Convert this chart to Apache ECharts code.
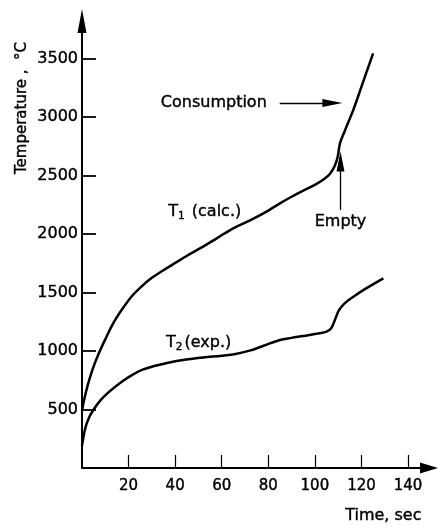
<!DOCTYPE html>
<html>
<head>
<meta charset="utf-8">
<script src="https://cdn.jsdelivr.net/npm/echarts@6/dist/echarts.min.js"></script>
<style>
  html, body { margin: 0; padding: 0; background: #fff; }
  #chart { width: 439px; height: 527px; }
</style>
</head>
<body>
<div id="chart"></div>
<script>
// ---- data (time in s, temperature in °C) ----
const t1Time = [0, 1, 2.5, 4.5, 7, 10, 13.5, 17, 21.2, 25.5, 30, 35, 40, 45.6, 52, 58, 64.9, 73, 80, 85, 90, 95, 100, 104, 106.5, 108.5, 109.8, 110.8, 113, 116.5, 120, 125];
const t1Temp = [490, 590, 710, 840, 970, 1100, 1240, 1350, 1464, 1550, 1625, 1690, 1752, 1820, 1892, 1965, 2048, 2125, 2200, 2262, 2318, 2370, 2420, 2470, 2515, 2580, 2660, 2776, 2889, 3060, 3259, 3544];
const t2Time = [0, 1.4, 3, 5, 8, 11, 14, 18, 22, 26, 31, 37, 44, 52, 60, 66, 72, 78, 85, 90, 95, 100, 105, 107, 108.5, 110, 111.5, 113.5, 116.5, 122, 129.4];
const t2Temp = [190, 340, 430, 500, 580, 640, 690, 750, 800, 840, 872, 900, 925, 945, 960, 975, 1003, 1045, 1094, 1112, 1128, 1145, 1165, 1195, 1260, 1335, 1380, 1420, 1464, 1535, 1621];

const xTicks = [20, 40, 60, 80, 100, 120, 140];
const yTicks = [500, 1000, 1500, 2000, 2500, 3000, 3500];
const xMax = 149;
const yMax = 3820;

// annotation texts placed in data space [time, temperature, text]
const labelTexts = [
  [52.7, 2188, '{n|T}{s|1}{n| (calc.)}'],
  [50.1, 1068, '{n|T}{s|2}{n|(exp.)}'],
  [56.6, 3120, '{n|Consumption}'],
  [111, 2103, '{n|Empty}']
];
// arrows [fromTime, fromTemp, toTime, toTemp]
const arrowLines = [
  [84.9, 3120, 107.5, 3120],
  [111, 2205, 111, 2620]
];

const ink = '#000';
const font = 'DejaVu Sans';
const thick = { textBorderColor: '#000', textBorderWidth: 0.4 };

const chart = echarts.init(document.getElementById('chart'), null, { renderer: 'canvas' });

const zip = (a, b) => a.map((v, i) => [v, b[i]]);

chart.setOption({
  animation: false,
  backgroundColor: '#fff',
  textStyle: { fontFamily: font, color: ink },
  grid: { left: 82, right: 10, top: 21, bottom: 59, outerBoundsMode: 'none', containLabel: false },
  xAxis: {
    type: 'value', min: 0, max: xMax,
    axisLine: { show: true, symbol: ['none', 'triangle'], symbolSize: [11, 18], lineStyle: { color: ink, width: 2 } },
    axisTick: { show: true, inside: true, length: 13, customValues: xTicks, lineStyle: { color: ink, width: 1.2 } },
    axisLabel: Object.assign({ customValues: xTicks, margin: 11, fontSize: 15, color: ink, fontFamily: font, formatter: v => String(v) }, thick),
    splitLine: { show: false }
  },
  yAxis: {
    type: 'value', min: 0, max: yMax,
    axisLine: { show: true, symbol: ['none', 'triangle'], symbolSize: [9, 24], lineStyle: { color: ink, width: 2 } },
    axisTick: { show: true, inside: true, length: 14, customValues: yTicks, lineStyle: { color: ink, width: 1.8 } },
    axisLabel: Object.assign({ customValues: yTicks, margin: 4, fontSize: 16, color: ink, fontFamily: font, formatter: v => String(v) }, thick),
    splitLine: { show: false }
  },
  graphic: [
    { type: 'text', left: 345, top: 508, style: { text: 'Time, sec', font: '16px ' + font, fill: ink, stroke: '#000', lineWidth: 0.4 } },
    { type: 'text', x: 22, y: 108, rotation: Math.PI / 2, style: { text: 'Temperature ,  °C', font: '15px ' + font, fill: ink, stroke: '#000', lineWidth: 0.4, align: 'center', verticalAlign: 'middle' } }
  ],
  series: [
    {
      name: 'T1 (calc.)', type: 'line', data: zip(t1Time, t1Temp), smooth: 0.35,
      showSymbol: false, symbol: 'none', lineStyle: { color: ink, width: 2.5 }, silent: true
    },
    {
      name: 'T2 (exp.)', type: 'line', data: zip(t2Time, t2Temp), smooth: 0.35,
      showSymbol: false, symbol: 'none', lineStyle: { color: ink, width: 2.5 }, silent: true
    },
    {
      name: 'annotations', type: 'scatter', data: labelTexts, symbolSize: 0, silent: true,
      itemStyle: { opacity: 1 },
      label: {
        show: true, position: 'inside', formatter: p => p.data[2], color: ink, opacity: 1,
        rich: {
          n: Object.assign({ fontSize: 16, fontFamily: font, color: ink, lineHeight: 20 }, thick),
          s: Object.assign({ fontSize: 10.5, fontFamily: font, color: ink, padding: [9, 2, 0, 0], lineHeight: 20 }, thick)
        }
      },
      markLine: {
        silent: true, symbol: ['none', 'triangle'], symbolSize: [8, 20],
        label: { show: false },
        lineStyle: { color: ink, width: 1.3, type: 'solid', opacity: 1 },
        emphasis: { disabled: true },
        data: arrowLines.map(a => [{ coord: [a[0], a[1]] }, { coord: [a[2], a[3]] }])
      }
    }
  ]
});
</script>
</body>
</html>
